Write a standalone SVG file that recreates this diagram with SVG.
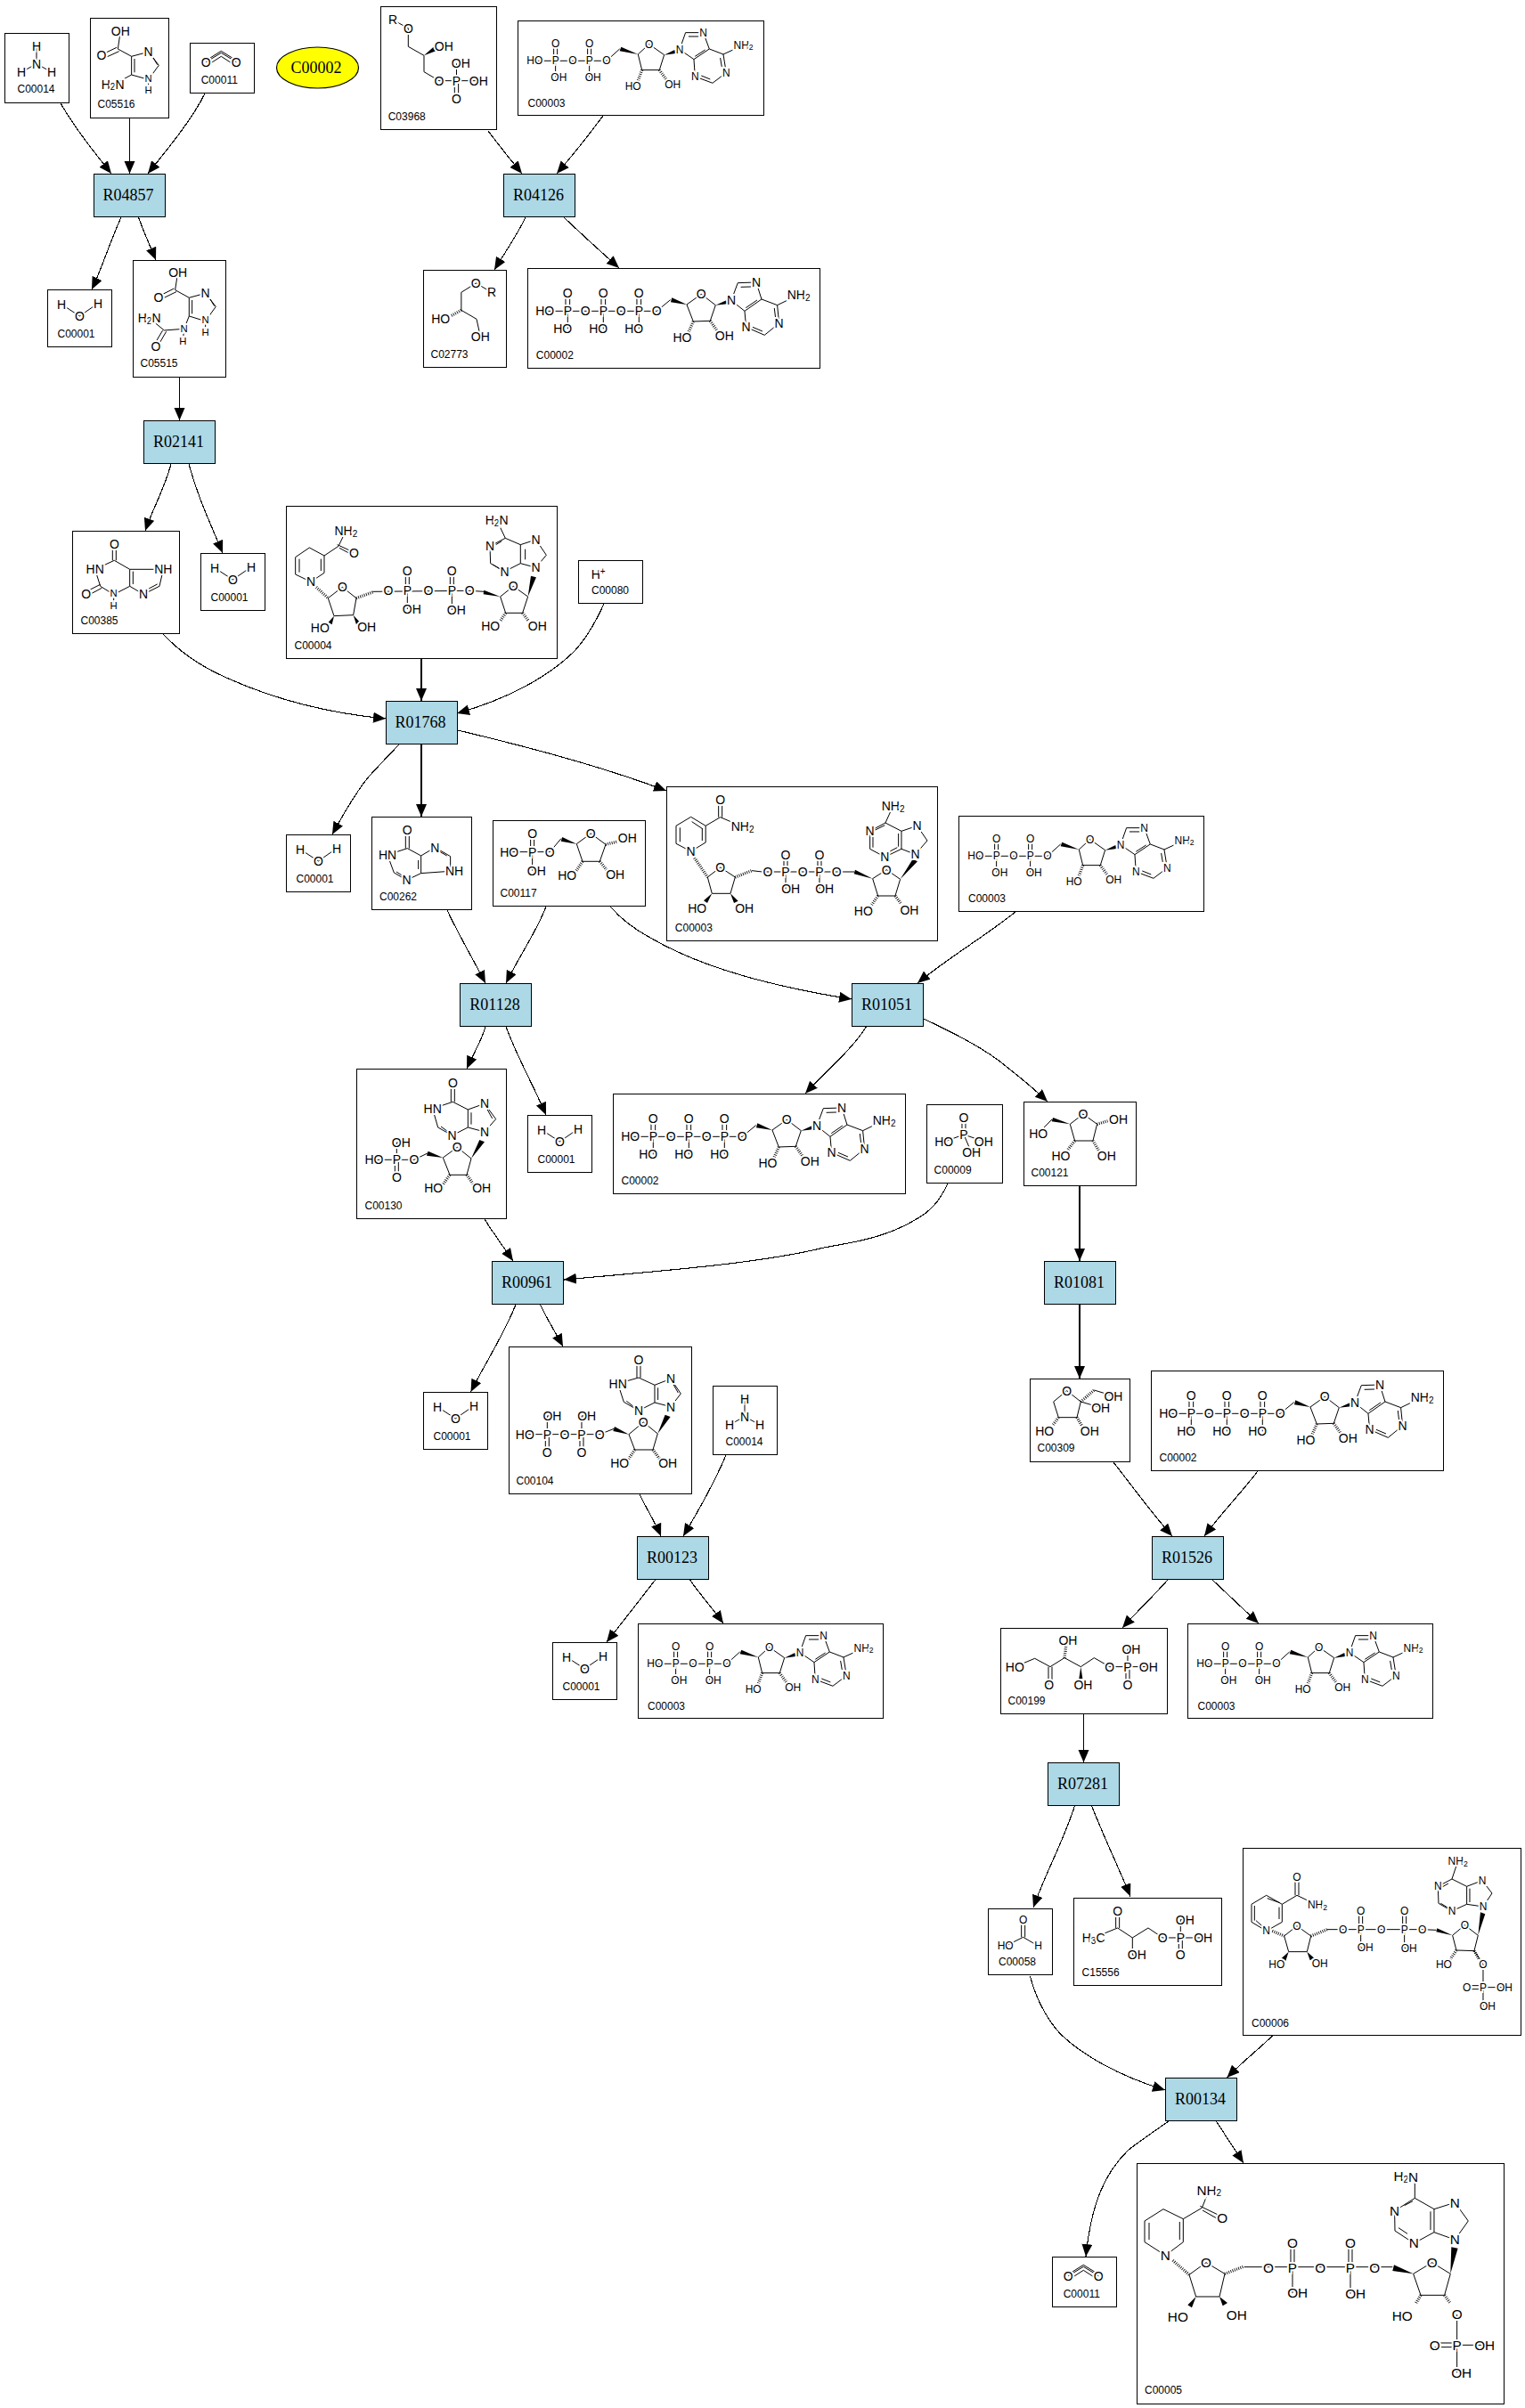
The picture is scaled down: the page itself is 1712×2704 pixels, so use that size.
<svg xmlns="http://www.w3.org/2000/svg" xmlns:xlink="http://www.w3.org/1999/xlink" width="1712" height="2704" viewBox="0 0 1712 2704">
<style>
.b{fill:#fff;stroke:#000;stroke-width:1.2;shape-rendering:crispEdges}
.rx{fill:#add8e6;stroke:#000;stroke-width:1.2;shape-rendering:crispEdges}
.l{font-family:"Liberation Sans",sans-serif;font-size:12px;fill:#000}
.t{font-family:"Liberation Serif",serif;font-size:18px;text-anchor:middle;fill:#000}
#connectors path{fill:none;stroke:#000;stroke-width:1.1;marker-end:url(#arrow);shape-rendering:crispEdges}
.m path{fill:none;stroke:#000;stroke-width:3}
.m path.w{fill:#000;stroke:none}
.m path.h{stroke-width:10;stroke-dasharray:2.5 4.5}
.m text{font-family:"Liberation Sans",sans-serif;font-size:42px;text-anchor:middle;dominant-baseline:central;paint-order:stroke;stroke:#fff;stroke-width:12px;fill:#000}
.m tspan.u{font-size:30px}
.m.s text{font-size:36px}
.m.s tspan.u{font-size:26px}
.m.g text{font-size:46px}
.m text.n{font-size:34px}
</style>
<defs>
<marker id="arrow" markerUnits="userSpaceOnUse" markerWidth="15" markerHeight="13" refX="14" refY="6" orient="auto"><path d="M0,0L14,6L0,12Z" fill="#000"/></marker>
<g id="h2o" class="m"><path d="M207,1025L268,1065L330,1022"/><text x="207" y="1025">H</text><text x="268" y="1065">O</text><text x="330" y="1022">H</text></g>
<g id="nh3" class="m"><path d="M123,156V215M72,243L123,215L174,243"/><text x="123" y="156">H</text><text x="123" y="215">N</text><text x="72" y="243">H</text><text x="174" y="243">H</text></g>
<g id="co2" class="m"><path d="M694,209L745,178L796,209M700,219L745,190L790,219M700,200L745,172L790,200"/><text x="694" y="209">O</text><text x="796" y="209">O</text></g>
<g id="atp" class="m"><path d="M635,262H1012L1058,224M712,262V322M832,262V322M952,262V322M705,262V202M719,262V202M825,262V202M839,262V202M945,262V202M959,262V202M1113,240L1162,205L1210,242L1192,295L1135,297ZM1263,226L1285,167L1347,165L1365,222L1308,262L1263,226M1365,222L1418,242L1490,207M1418,242L1424,303L1375,343L1313,316L1308,262M1295,181L1330,180M1350,225L1312,251M1408,252L1412,285M1368,330L1335,316"/><path class="w" d="M1113,240L1063,217L1059,232ZM1210,242L1246,226L1250,238Z"/><path class="h" d="M1135,297L1118,335M1192,295L1215,328"/>
<text x="635" y="262">HO</text><text x="712" y="262">P</text><text x="712" y="202">O</text><text x="695" y="322">HO</text><text x="772" y="262">O</text><text x="832" y="262">P</text><text x="832" y="202">O</text><text x="815" y="322">HO</text><text x="892" y="262">O</text><text x="952" y="262">P</text><text x="952" y="202">O</text><text x="935" y="322">HO</text><text x="1012" y="262">O</text><text x="1162" y="205">O</text><text x="1098" y="352">HO</text><text x="1240" y="345">OH</text><text x="1263" y="226">N</text><text x="1347" y="165">N</text><text x="1490" y="207">NH<tspan class="u" dy="8">2</tspan></text><text x="1424" y="303">N</text><text x="1313" y="316">N</text></g>
<g id="adp" class="m s"><path d="M757,1105H999L1043,1065M827,1105V1160M941,1105V1160M821,1105V1046M833,1105V1046M935,1105V1046M947,1105V1046M1105,1083L1142,1049L1193,1085L1177,1136L1118,1136ZM1245,1067L1265,1010L1325,1010L1345,1065L1293,1100L1245,1067M1345,1065L1392,1083L1460,1052M1392,1083L1402,1145L1356,1180L1297,1158L1293,1100M1275,1023L1310,1023M1331,1068L1297,1090M1382,1095L1387,1125M1348,1167L1318,1155"/><path class="w" d="M1105,1083L1048,1058L1043,1072ZM1193,1085L1228,1068L1232,1080Z"/><path class="h" d="M1118,1136L1105,1172M1177,1136L1200,1168"/>
<text x="757" y="1105">HO</text><text x="827" y="1105">P</text><text x="827" y="1046">O</text><text x="838" y="1160">OH</text><text x="885" y="1105">O</text><text x="941" y="1105">P</text><text x="941" y="1046">O</text><text x="953" y="1160">OH</text><text x="999" y="1105">O</text><text x="1142" y="1049">O</text><text x="1088" y="1192">HO</text><text x="1222" y="1184">OH</text><text x="1245" y="1067">N</text><text x="1325" y="1010">N</text><text x="1460" y="1052">NH<tspan class="u" dy="8">2</tspan></text><text x="1402" y="1145">N</text><text x="1297" y="1158">N</text></g>
</defs>

<g id="connectors">
<path d="M68,116C85,145 105,170 125,195"/>
<path d="M145.5,133V195"/>
<path d="M230,105C215,135 190,165 166,195"/>
<path d="M136,244C122,275 115,300 103,325"/>
<path d="M155.5,244C162,262 168,275 175,292"/>
<path d="M548,147C560,163 572,178 586,195"/>
<path d="M677,130C660,153 645,172 625,195"/>
<path d="M590,244C580,265 567,283 555,303"/>
<path d="M633,244C655,265 675,283 695,301"/>
<path d="M201.5,424V472"/>
<path d="M192,521C185,548 172,570 163,596"/>
<path d="M212,521C222,558 235,585 250,621"/>
<path d="M183,712C200,730 225,748 252,760C300,782 360,800 433,807"/>
<path d="M473,740V787"/>
<path d="M678,678C668,700 658,718 643,733C615,760 570,785 513,801"/>
<path d="M448,836C430,855 418,867 410,877C395,897 385,915 373,937"/>
<path d="M473,836V917"/>
<path d="M514,820C590,838 680,862 748,888"/>
<path d="M502,1022C515,1050 530,1075 545,1104"/>
<path d="M613,1018C603,1045 585,1070 568,1104"/>
<path d="M685,1018C700,1035 715,1045 730,1053C790,1088 870,1108 956,1122"/>
<path d="M1140,1024C1105,1052 1065,1075 1030,1104"/>
<path d="M972.5,1153C955,1180 930,1200 904,1228"/>
<path d="M1037,1144C1070,1160 1095,1172 1120,1190C1142,1207 1158,1220 1176,1237"/>
<path d="M545,1153C540,1170 532,1182 524,1200"/>
<path d="M568,1153C582,1190 597,1215 613,1252"/>
<path d="M544,1369C554,1385 565,1400 576,1416"/>
<path d="M1064,1329C1054,1350 1045,1360 1027,1370C990,1392 950,1396 925,1401C860,1417 770,1425 633,1437"/>
<path d="M579,1465C565,1500 545,1530 528.5,1563"/>
<path d="M606.5,1465C615,1483 623,1495 632,1512"/>
<path d="M718,1678C726,1695 735,1708 742,1725"/>
<path d="M815,1634C802,1665 785,1695 767,1725"/>
<path d="M735.6,1774C718,1797 700,1820 681,1844"/>
<path d="M774.5,1774C787,1792 800,1806 812,1823"/>
<path d="M1212,1332V1416"/>
<path d="M1212,1465V1548"/>
<path d="M1250,1642C1272,1670 1292,1698 1316,1725"/>
<path d="M1412,1652C1392,1678 1372,1698 1352,1725"/>
<path d="M1311,1774C1295,1792 1278,1808 1260,1828"/>
<path d="M1361,1774C1378,1790 1395,1806 1413,1823"/>
<path d="M1216.5,1925V1979"/>
<path d="M1206.4,2028C1195,2065 1175,2100 1160,2142"/>
<path d="M1225.7,2028C1240,2065 1255,2095 1269,2129.5"/>
<path d="M1156.5,2219C1163,2245 1175,2265 1186,2279C1200,2295 1220,2308 1238,2318C1260,2330 1285,2340 1308,2347"/>
<path d="M1428.5,2286C1412,2302 1395,2315 1377.5,2333"/>
<path d="M1312,2382C1290,2397 1275,2408 1267,2414C1240,2440 1225,2475 1219,2534"/>
<path d="M1365.5,2382C1375,2397 1385,2412 1396,2429"/>
</g>

<g id="n_C00002"><ellipse cx="356.5" cy="76" rx="46" ry="23" fill="#ff0" stroke="#000" stroke-width="1.2"/><text class="t" x="355" y="82">C00002</text></g>

<g id="n_C00014_1"><rect class="b" x="5.5" y="37.5" width="72" height="78"/><use href="#nh3" transform="scale(.3333)"/><text class="l" x="19.5" y="104">C00014</text></g>
<g id="n_C05516"><rect class="b" x="101.5" y="20.5" width="88" height="112"/><g class="m" transform="scale(.3333)"><path d="M397,165L406,104M397,165L443,190L500,175L535,220L500,268L443,252L443,190M500,268V298M443,252L395,278M393,160L349,181M401,173L357,193M453,198V244M511,186L530,218M397,165"/><text x="406" y="104">OH</text><text x="342" y="187">O</text><text x="500" y="175">N</text><text class="n" x="500" y="264">N</text><text class="n" x="500" y="304">H</text><text x="380" y="284">H<tspan class="u" dy="8">2</tspan><tspan dy="-8">N</tspan></text></g><text class="l" x="109.5" y="121">C05516</text></g>
<g id="n_C00011_1"><rect class="b" x="213.5" y="48.5" width="72" height="56"/><use href="#co2" transform="scale(.3333)"/><text class="l" x="225.7" y="94">C00011</text></g>
<g id="n_R04857"><rect class="rx" x="105.5" y="195.5" width="80" height="48"/><text class="t" x="144" y="225">R04857</text></g>
<g id="n_C03968"><rect class="b" x="427.5" y="7.5" width="130" height="138"/><g class="m" transform="translate(400,0) scale(.3333)"><path d="M123,67L175,95V157L228,187V242L279,272H412M337.5,272V214M331,272V332M344,272V332"/><path class="w" d="M228,187L260,158L268,172Z"/><text x="123" y="67">R</text><text x="175" y="95">O</text><text x="295" y="155">OH</text><text x="279" y="272">O</text><text x="337" y="272">P</text><text x="352" y="214">OH</text><text x="412" y="272">OH</text><text x="337" y="332">O</text></g><text class="l" x="435.7" y="135">C03968</text></g>
<g id="n_C00003_1"><rect class="b" x="581.5" y="23.5" width="276" height="106"/><use href="#adp" transform="translate(348,-300) scale(.3333)"/><text class="l" x="592.5" y="120">C00003</text></g>
<g id="n_R04126"><rect class="rx" x="565.5" y="195.5" width="80" height="48"/><text class="t" x="604.5" y="225">R04126</text></g>
<g id="n_C00001_1"><rect class="b" x="53.5" y="325.5" width="72" height="64"/><use href="#h2o" transform="scale(.3333)"/><text class="l" x="64.5" y="379">C00001</text></g>
<g id="n_C05515"><rect class="b" x="149.5" y="292.5" width="104" height="131"/><g class="m" transform="scale(.3333)"><path d="M599,917L590,977L637,1003L692,988L727,1033L692,1082L637,1065V1003M692,1082V1112M637,1065L620,1108L553,1113L503,1072M586,972L541,995M594,983L549,1005M647,1011V1057M703,1000L722,1031M548,1113L520,1160M560,1117L532,1165M620,1108L616,1150"/><text x="599" y="917">OH</text><text x="534" y="1001">O</text><text x="692" y="988">N</text><text class="n" x="692" y="1078">N</text><text class="n" x="692" y="1118">H</text><text class="n" x="620" y="1108">N</text><text class="n" x="616" y="1150">H</text><text x="503" y="1072">H<tspan class="u" dy="8">2</tspan><tspan dy="-8">N</tspan></text><text x="525" y="1167">O</text></g><text class="l" x="157.5" y="412">C05515</text></g>
<g id="n_C02773"><rect class="b" x="475.5" y="303.5" width="93" height="109"/><g class="m" transform="translate(400,0) scale(.3333)"><path d="M456,985L403,954L353.6,985V1045L405,1075L418,1134"/><path class="h" d="M353.6,1045L318,1065"/><text x="403" y="954">O</text><text x="456" y="985">R</text><text x="284" y="1075">HO</text><text x="418" y="1134">OH</text></g><text class="l" x="483.5" y="402">C02773</text></g>
<g id="n_C00002_1"><rect class="b" x="592.5" y="301.5" width="328" height="112"/><use href="#atp" transform="translate(400,262) scale(.3333)"/><text class="l" x="601.8" y="403">C00002</text></g>
<g id="n_R02141"><rect class="rx" x="161.5" y="472.5" width="80" height="48"/><text class="t" x="200.5" y="502">R02141</text></g>
<g id="n_C00385"><rect class="b" x="81.5" y="596.5" width="120" height="115"/><g class="m" transform="translate(60,280) scale(.3333)"><path d="M199,1048V993M211,1048V993M205,1048L140,1078L158,1135L203,1163L257,1135V1078L205,1048M257,1078H370L357,1135L303,1162L257,1135M268,1085V1128M203,1163V1195M158,1129L112,1152M163,1141L118,1165M350,1128L312,1148"/><text x="205" y="993">O</text><text x="140" y="1078">HN</text><text x="110" y="1160">O</text><text class="n" x="203" y="1159">N</text><text class="n" x="203" y="1199">H</text><text x="370" y="1078">NH</text><text x="303" y="1162">N</text></g><text class="l" x="90.5" y="701">C00385</text></g>
<g id="n_C00001_2"><rect class="b" x="225.5" y="621.5" width="72" height="64"/><use href="#h2o" transform="translate(172,296) scale(.3333)"/><text class="l" x="236.5" y="675">C00001</text></g>
<g id="n_C00004"><rect class="b" x="321.5" y="568.5" width="304" height="171"/><g class="m" transform="translate(300,560) scale(.3333)"><path d="M265,108L240,160L192,192L142,165L95,197V255L147,280L192,250V192M236,155L290,180M243,166L288,190M108,203V248M181,203V243M205,335L253,298L300,335L290,392L225,395ZM355,313L682,310L730,313M466,310V243M478,310V243M472,310V372M616,310V243M628,310V243M622,310V375M785,330L829,295L878,330L860,385L803,385ZM905,232L940,190L905,138L853,155L853,218L905,232M853,218L800,245L752,218L750,160L802,133L853,155M802,133L773,72M869,170V205M760,222L785,238M770,155L790,143"/><path class="w" d="M225,395L206,416L218,424ZM290,392L300,424L310,414ZM785,330L730,308L728,322ZM878,330L888,260L906,265Z"/><path class="h" d="M165,298L205,335M300,335L355,315M803,385L785,412M860,385L880,412"/><text x="265" y="108">NH<tspan class="u" dy="8">2</tspan></text><text x="292" y="183">O</text><text x="147" y="280">N</text><text x="253" y="298">O</text><text x="178" y="435">HO</text><text x="335" y="432">OH</text><text x="408" y="310">O</text><text x="472" y="310">P</text><text x="472" y="243">O</text><text x="487" y="372">OH</text><text x="543" y="310">O</text><text x="622" y="310">P</text><text x="622" y="243">O</text><text x="637" y="375">OH</text><text x="682" y="310">O</text><text x="829" y="295">O</text><text x="752" y="430">HO</text><text x="910" y="430">OH</text><text x="905" y="232">N</text><text x="905" y="138">N</text><text x="800" y="245">N</text><text x="750" y="160">N</text><text x="773" y="72">H<tspan class="u" dy="8">2</tspan><tspan dy="-8">N</tspan></text></g><text class="l" x="330.5" y="729">C00004</text></g>
<g id="n_C00080"><rect class="b" x="649.5" y="629.5" width="72" height="48"/><g class="m" transform="translate(300,560) scale(.3333)"><text x="1115" y="255">H<tspan class="u" dy="-12">+</tspan></text></g><text class="l" x="664" y="667">C00080</text></g>
<g id="n_R01768"><rect class="rx" x="433.5" y="787.5" width="80" height="48"/><text class="t" x="472" y="817">R01768</text></g>
<g id="n_C00001_3"><rect class="b" x="321.5" y="937.5" width="72" height="64"/><use href="#h2o" transform="translate(268,612) scale(.3333)"/><text class="l" x="332.5" y="991">C00001</text></g>
<g id="n_C00262"><rect class="b" x="417.5" y="917.5" width="112" height="104"/><g class="m" transform="translate(300,560) scale(.3333)"><path d="M466,1178V1117M478,1178V1117M472,1178L405,1200L427,1260L470,1285L518,1262V1203L472,1178M518,1203L565,1175L617,1205V1255H630M617,1255L518,1262M509,1218V1248M435,1257L458,1272M576,1186L605,1203"/><text x="472" y="1117">O</text><text x="405" y="1200">HN</text><text x="470" y="1285">N</text><text x="565" y="1175">N</text><text x="630" y="1255">NH</text></g><text class="l" x="426" y="1011">C00262</text></g>
<g id="n_C00117"><rect class="b" x="553.5" y="921.5" width="171" height="96"/><g class="m" transform="translate(300,560) scale(.3333)"><path d="M815,1190H952L990,1145M887,1190V1128M899,1190V1128M893,1190V1253M1042,1163L1090,1128L1140,1165L1120,1222L1062,1222Z"/><path class="w" d="M1042,1163L994,1140L989,1154Z"/><path class="h" d="M1062,1222L1040,1255M1120,1222L1143,1250M1140,1165L1180,1155"/><text x="815" y="1190">HO</text><text x="893" y="1190">P</text><text x="893" y="1128">O</text><text x="907" y="1253">OH</text><text x="952" y="1190">O</text><text x="1090" y="1128">O</text><text x="1010" y="1270">HO</text><text x="1172" y="1265">OH</text><text x="1213" y="1143">OH</text></g><text class="l" x="561.5" y="1007">C00117</text></g>
<g id="n_C00003_2"><rect class="b" x="748.5" y="883.5" width="304" height="173"/><g class="m" transform="translate(730,870) scale(.3333)"><path d="M230,143V85M242,143V85M236,143L311,175M236,143L186.6,172L137,142L87,172V232L137,258L186.6,228V172M100,178V226M176,182L140,158M175,222V180M193,345L236,312L286,345L270,400L208,400ZM342,323L377,327H628H687M450,327V270M462,327V270M456,327V385M564,327V270M576,327V270M570,327V385M749,350L796,320L842,352L825,408L767,408ZM893,268L933,222L899,172L846,190V250L893,268M846,250L790,277L740,250V190L792,162L846,190M792,162L818,105M836,198V242M750,195V245M756,187L790,170M800,262L832,245"/><path class="w" d="M208,400L180,424L192,432ZM270,400L282,432L296,425ZM749,350L690,320L686,334ZM842,352L884,284L900,292Z"/><path class="h" d="M149,280L193,345M286,345L342,323M767,408L746,438M825,408L846,436"/><text x="236" y="85">O</text><text x="311" y="175">NH<tspan class="u" dy="8">2</tspan></text><text x="137" y="258">N</text><text x="236" y="312">O</text><text x="158" y="450">HO</text><text x="317" y="450">OH</text><text x="396" y="327">O</text><text x="456" y="327">P</text><text x="456" y="270">O</text><text x="473" y="385">OH</text><text x="514" y="327">O</text><text x="570" y="327">P</text><text x="570" y="270">O</text><text x="587" y="385">OH</text><text x="628" y="327">O</text><text x="796" y="320">O</text><text x="718" y="458">HO</text><text x="873" y="455">OH</text><text x="893" y="268">N</text><text x="899" y="172">N</text><text x="790" y="277">N</text><text x="740" y="190">N</text><text x="818" y="105">NH<tspan class="u" dy="8">2</tspan></text></g><text class="l" x="757.8" y="1046">C00003</text></g>
<g id="n_C00003_3"><rect class="b" x="1076.5" y="916.5" width="275" height="107"/><use href="#adp" transform="translate(843,593) scale(.3333)"/><text class="l" x="1087" y="1013">C00003</text></g>
<g id="n_R01128"><rect class="rx" x="516.5" y="1104.5" width="80" height="48"/><text class="t" x="555.5" y="1134">R01128</text></g>
<g id="n_R01051"><rect class="rx" x="956.5" y="1104.5" width="80" height="48"/><text class="t" x="995.5" y="1134">R01051</text></g>
<g id="n_C00130"><rect class="b" x="400.5" y="1200.5" width="168" height="168"/><g class="m" transform="translate(380,1000) scale(.3333)"><path d="M379,712V648M391,712V648M385,712L317,735L335,798L383,825L436,798V738L385,712M436,738L492,718L530,770L492,813L436,798M447,748V788M345,795L368,812M500,735L518,768M352,900L400,865L447,903L432,958L375,958ZM120,907H255L300,885M196,907V849H211M190,907V965M202,907V965"/><path class="w" d="M352,900L302,878L297,893ZM447,903L475,840L492,847Z"/><path class="h" d="M375,958L352,990M432,958L455,990"/><text x="385" y="648">O</text><text x="317" y="735">HN</text><text x="383" y="825">N</text><text x="492" y="718">N</text><text x="492" y="813">N</text><text x="400" y="865">O</text><text x="320" y="1002">HO</text><text x="482" y="1002">OH</text><text x="255" y="905">O</text><text x="196" y="907">P</text><text x="120" y="907">HO</text><text x="211" y="849">OH</text><text x="196" y="965">O</text></g><text class="l" x="409.5" y="1358">C00130</text></g>
<g id="n_C00001_4"><rect class="b" x="592.5" y="1252.5" width="72" height="64"/><use href="#h2o" transform="translate(539,927) scale(.3333)"/><text class="l" x="603.5" y="1306">C00001</text></g>
<g id="n_C00002_2"><rect class="b" x="688.5" y="1228.5" width="328" height="112"/><use href="#atp" transform="translate(496,1189) scale(.3333)"/><text class="l" x="697.5" y="1330">C00002</text></g>
<g id="n_C00009"><rect class="b" x="1040.5" y="1240.5" width="85" height="88"/><g class="m" transform="translate(680,1200) scale(.3333)"><path d="M1200,222V165M1212,222V165M1206,222L1139,247M1206,222L1273,245M1206,222L1232,283"/><text x="1206" y="165">O</text><text x="1206" y="222">P</text><text x="1139" y="247">HO</text><text x="1273" y="245">OH</text><text x="1232" y="283">OH</text></g><text class="l" x="1048.6" y="1318">C00009</text></g>
<g id="n_C00121"><rect class="b" x="1149.5" y="1237.5" width="126" height="94"/><g class="m" transform="translate(680,1200) scale(.3333)"><path d="M1457,218L1504,170M1564,187L1608,153L1655,187L1641,243L1580,243Z"/><path class="w" d="M1564,187L1507,165L1502,178Z"/><path class="h" d="M1655,187L1695,175M1580,243L1555,275M1641,243L1660,275"/><text x="1457" y="218">HO</text><text x="1608" y="153">O</text><text x="1727" y="170">OH</text><text x="1533" y="293">HO</text><text x="1687" y="293">OH</text></g><text class="l" x="1157.5" y="1321">C00121</text></g>
<g id="n_R00961"><rect class="rx" x="552.5" y="1416.5" width="80" height="48"/><text class="t" x="591.5" y="1446">R00961</text></g>
<g id="n_R01081"><rect class="rx" x="1172.5" y="1416.5" width="80" height="48"/><text class="t" x="1211.5" y="1446">R01081</text></g>
<g id="n_C00001_5"><rect class="b" x="475.5" y="1563.5" width="72" height="64"/><use href="#h2o" transform="translate(422,1238) scale(.3333)"/><text class="l" x="486.5" y="1617">C00001</text></g>
<g id="n_C00104"><rect class="b" x="571.5" y="1512.5" width="205" height="165"/><g class="m" transform="translate(460,1400) scale(.3333)"><path d="M765,441V380M777,441V380M771,441L701,461L721,523L771,552L825,525V466L771,441M825,466L879,445L913,495L879,539L825,525M836,475V516M730,520L752,537M887,462L904,492M738,632L787,591L835,630L819,684L758,684ZM388,632H640L688,613M463,632V570H480M579,632V570H596M457,632V693M469,632V693M573,632V693M585,632V693"/><path class="w" d="M738,632L690,606L685,621ZM835,630L860,566L878,573Z"/><path class="h" d="M758,684L737,715M819,684L842,715"/><text x="771" y="380">O</text><text x="701" y="461">HN</text><text x="771" y="552">N</text><text x="879" y="445">N</text><text x="879" y="539">N</text><text x="787" y="591">O</text><text x="707" y="729">HO</text><text x="869" y="729">OH</text><text x="640" y="632">O</text><text x="579" y="632">P</text><text x="596" y="570">OH</text><text x="579" y="693">O</text><text x="522" y="632">O</text><text x="463" y="632">P</text><text x="480" y="570">OH</text><text x="463" y="693">O</text><text x="388" y="632">HO</text></g><text class="l" x="579.5" y="1667">C00104</text></g>
<g id="n_C00014_2"><rect class="b" x="800.5" y="1556.5" width="72" height="77"/><use href="#nh3" transform="translate(795,1519) scale(.3333)"/><text class="l" x="814.5" y="1623">C00014</text></g>
<g id="n_C00309"><rect class="b" x="1156.5" y="1548.5" width="112" height="93"/><g class="m" transform="translate(1100,1500) scale(.3333)"><path d="M293,185L248,222L265,275H327L340,222L293,185M340,222L407,242M385,183L450,203"/><path class="h" d="M340,222L385,183M265,275L245,302M327,275L345,305"/><text x="293" y="185">O</text><text x="450" y="203">OH</text><text x="407" y="242">OH</text><text x="218" y="322">HO</text><text x="370" y="322">OH</text></g><text class="l" x="1164.5" y="1630">C00309</text></g>
<g id="n_C00002_3"><rect class="b" x="1292.5" y="1539.5" width="328" height="112"/><use href="#atp" transform="translate(1100,1500) scale(.3333)"/><text class="l" x="1301.5" y="1641">C00002</text></g>
<g id="n_R00123"><rect class="rx" x="715.5" y="1725.5" width="80" height="48"/><text class="t" x="754.5" y="1755">R00123</text></g>
<g id="n_R01526"><rect class="rx" x="1293.5" y="1725.5" width="80" height="48"/><text class="t" x="1332.5" y="1755">R01526</text></g>
<g id="n_C00001_6"><rect class="b" x="620.5" y="1844.5" width="72" height="64"/><use href="#h2o" transform="translate(567,1519) scale(.3333)"/><text class="l" x="631.5" y="1898">C00001</text></g>
<g id="n_C00003_4"><rect class="b" x="716.5" y="1823.5" width="275" height="106"/><use href="#adp" transform="translate(483,1500) scale(.3333)"/><text class="l" x="727" y="1920">C00003</text></g>
<g id="n_C00199"><rect class="b" x="1123.5" y="1828.5" width="187" height="96"/><g class="m" transform="translate(1100,1500) scale(.3333)"><path d="M118,1115L185,1087L237,1115L285,1085L340,1115L385,1085L437,1115H568M231,1115V1175M243,1115V1175M498,1115V1055H510M492,1115V1175M504,1115V1175"/><path class="w" d="M340,1115L334,1155H346Z"/><path class="h" d="M285,1085L291,1040"/><text x="118" y="1115">HO</text><text x="233" y="1175">O</text><text x="297" y="1025">OH</text><text x="348" y="1175">OH</text><text x="437" y="1115">O</text><text x="498" y="1115">P</text><text x="510" y="1055">OH</text><text x="568" y="1115">OH</text><text x="498" y="1175">O</text></g><text class="l" x="1131.5" y="1914">C00199</text></g>
<g id="n_C00003_5"><rect class="b" x="1333.5" y="1823.5" width="275" height="106"/><use href="#adp" transform="translate(1100,1500) scale(.3333)"/><text class="l" x="1344.5" y="1920">C00003</text></g>
<g id="n_R07281"><rect class="rx" x="1176.5" y="1979.5" width="80" height="48"/><text class="t" x="1215.5" y="2009">R07281</text></g>
<g id="n_C00058"><rect class="b" x="1109.5" y="2143.5" width="72" height="74"/><g class="m s" transform="translate(1090,1780) scale(.3333)"><path d="M170,1186V1129M182,1186V1129M176,1186L116,1216M176,1186L227,1216"/><text x="176" y="1129">O</text><text x="116" y="1216">HO</text><text x="227" y="1216">H</text></g><text class="l" x="1121" y="2207">C00058</text></g>
<g id="n_C15556"><rect class="b" x="1205.5" y="2131.5" width="166" height="98"/><g class="m" transform="translate(1090,1780) scale(.3333)"><path d="M413,1188L494,1155L544,1188L597,1155L646,1188H782M544,1188V1246H559M488,1155V1097M500,1155V1097M706,1188V1127H721M700,1188V1246M712,1188V1246"/><text x="413" y="1188">H<tspan class="u" dy="8">3</tspan><tspan dy="-8">C</tspan></text><text x="494" y="1097">O</text><text x="559" y="1246">OH</text><text x="646" y="1188">O</text><text x="706" y="1188">P</text><text x="721" y="1127">OH</text><text x="782" y="1188">OH</text><text x="706" y="1246">O</text></g><text class="l" x="1214.6" y="2219">C15556</text></g>
<g id="n_C00006"><rect class="b" x="1395.5" y="2075.5" width="312" height="210"/><g class="m s" transform="translate(1380,2060) scale(.3333)"><path d="M222,205V145M234,205V145M228,205L297,238M228,205L178,235L125,205L75,235V295L125,325L178,295V235M85,240V290M168,245V285M170,230L128,215M90,290L115,312M185,342L228,308L275,342L262,395L200,395ZM330,320H650L697,322M437,320V257M449,320V257M443,320V382H458M584,320V257M596,320V257M590,320V383H605M752,340L793,305L838,340L825,392L765,390ZM855,243L885,198L852,155L800,175V235L855,243M800,235L750,258L705,232L703,175L750,150L800,175M750,150L770,90M810,182V228M712,180L738,165M712,232L742,250M825,392L855,437V515M855,515H927M855,509H800M855,521H800M855,515V580"/><path class="w" d="M200,395L176,417L190,426ZM262,395L272,424L286,416ZM752,340L700,316L697,328ZM838,340L846,262L862,268Z"/><path class="h" d="M145,325L185,342M275,342L330,320M765,390L745,420M825,392L840,418"/><text x="228" y="145">O</text><text x="297" y="238">NH<tspan class="u" dy="8">2</tspan></text><text x="125" y="325">N</text><text x="228" y="308">O</text><text x="160" y="438">HO</text><text x="305" y="436">OH</text><text x="383" y="320">O</text><text x="443" y="320">P</text><text x="443" y="257">O</text><text x="458" y="382">OH</text><text x="512" y="320">O</text><text x="590" y="320">P</text><text x="590" y="257">O</text><text x="605" y="383">OH</text><text x="650" y="320">O</text><text x="793" y="305">O</text><text x="723" y="437">HO</text><text x="855" y="437">O</text><text x="855" y="515">P</text><text x="800" y="515">O</text><text x="927" y="515">OH</text><text x="870" y="580">OH</text><text x="855" y="243">N</text><text x="852" y="155">N</text><text x="750" y="258">N</text><text x="703" y="175">N</text><text x="770" y="90">NH<tspan class="u" dy="8">2</tspan></text></g><text class="l" x="1405" y="2276">C00006</text></g>
<g id="n_R00134"><rect class="rx" x="1308.5" y="2333.5" width="80" height="48"/><text class="t" x="1347.5" y="2363">R00134</text></g>
<g id="n_C00011_2"><rect class="b" x="1181.5" y="2534.5" width="72" height="56"/><use href="#co2" transform="translate(968,2486) scale(.3333)"/><text class="l" x="1193.7" y="2580">C00011</text></g>
<g id="n_C00005"><rect class="b" x="1276.5" y="2429.5" width="412" height="270"/><g class="m g" transform="translate(1270,2420) scale(.3333)"><path d="M262,118L238,178L175,215L108,182L45,222V293L115,338L175,293V215M232,172L300,205M240,186L300,220M60,228V285M163,225V285M195,403L252,362L315,400L297,477L218,477ZM380,377H880M537,380V297M549,380V297M543,380V465M732,380V297M744,380V297M738,380V467M950,400L1013,362L1075,400L1055,472L975,472ZM1090,285L1135,222L1090,160L1020,182V260L1090,285M1020,260L952,297L888,255L887,188L955,145L1020,182M955,145V72M1008,190V252M900,245L930,265M920,170L948,155M1097,537V733M1097,640H1190M1097,633H1022M1097,647H1022"/><path class="w" d="M218,477L190,505L204,514ZM297,477L308,508L324,498ZM950,400L885,370L880,390ZM1075,400L1078,310L1100,314Z"/><path class="h" d="M140,355L195,403M315,400L380,375M975,472L958,500M1055,472L1075,500"/><text x="262" y="118">NH<tspan class="u" dy="8">2</tspan></text><text x="307" y="213">O</text><text x="115" y="338">N</text><text x="252" y="362">O</text><text x="157" y="545">HO</text><text x="355" y="538">OH</text><text x="462" y="380">O</text><text x="543" y="380">P</text><text x="543" y="297">O</text><text x="560" y="465">OH</text><text x="637" y="380">O</text><text x="738" y="380">P</text><text x="738" y="297">O</text><text x="755" y="467">OH</text><text x="820" y="380">O</text><text x="1013" y="362">O</text><text x="913" y="543">HO</text><text x="1097" y="537">O</text><text x="1097" y="640">P</text><text x="1022" y="640">O</text><text x="1190" y="640">OH</text><text x="1112" y="733">OH</text><text x="1090" y="285">N</text><text x="1090" y="160">N</text><text x="952" y="297">N</text><text x="887" y="188">N</text><text x="925" y="72">H<tspan class="u" dy="8">2</tspan><tspan dy="-8">N</tspan></text></g><text class="l" x="1285" y="2688">C00005</text></g>
</svg>
